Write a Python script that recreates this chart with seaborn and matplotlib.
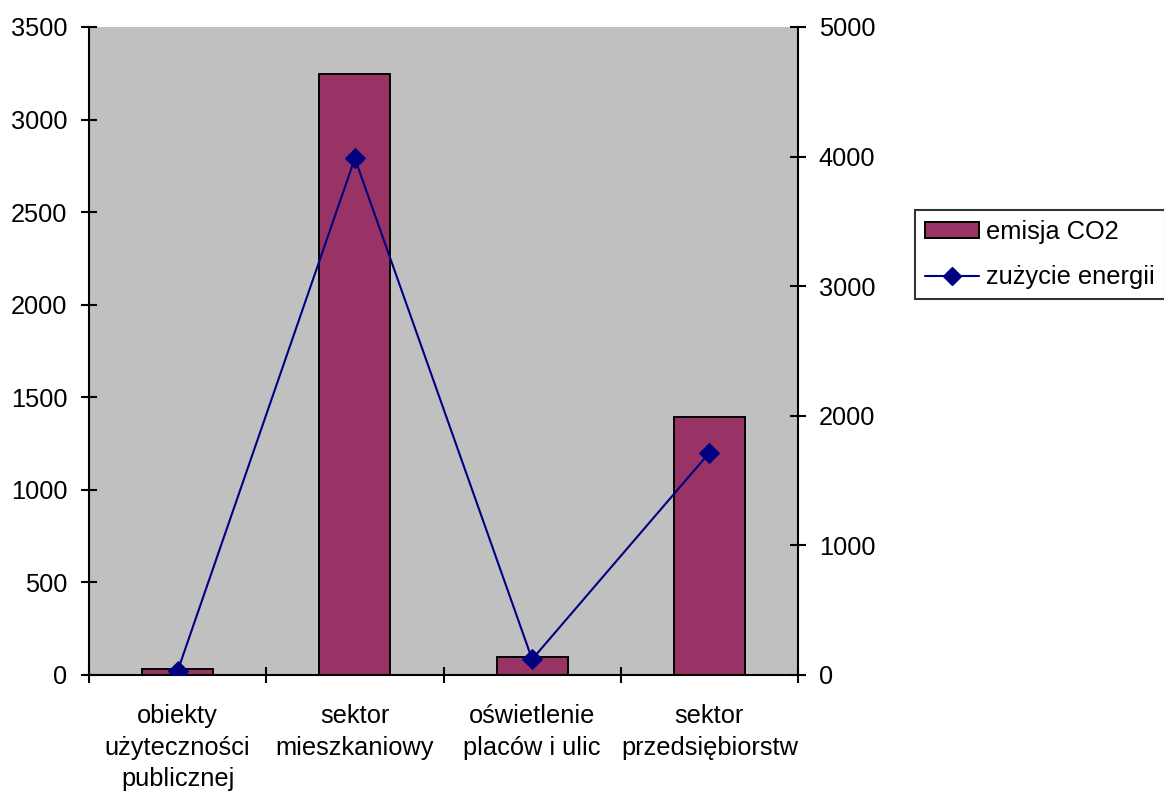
import matplotlib
matplotlib.use("Agg")
import matplotlib.pyplot as plt
import seaborn as sns
import pandas as pd
import numpy as np
from matplotlib.patches import Patch
from matplotlib.lines import Line2D

categories = ["obiekty\nużyteczności\npublicznej", "sektor\nmieszkaniowy",
              "oświetlenie\nplaców i ulic", "sektor\nprzedsiębiorstw"]
emisja_co2 = [35, 3244, 97, 1395]
zuzycie_energii = [31, 3987, 121, 1715]

left_ticks = [0, 500, 1000, 1500, 2000, 2500, 3000, 3500]
right_ticks = [0, 1000, 2000, 3000, 4000, 5000]

bar_color = "#993366"
line_color = "#000080"
bg_color = "#C0C0C0"

sns.set_theme(style="white")
plt.rcParams["font.family"] = ["Liberation Sans", "DejaVu Sans"]
plt.rcParams["text.color"] = "black"

df = pd.DataFrame({"kategoria": categories, "emisja": emisja_co2, "energia": zuzycie_energii})

fig = plt.figure(figsize=(11.64, 7.93), dpi=100)
ax = fig.add_axes([89 / 1164, 1 - 675 / 793, (798 - 89) / 1164, (675 - 27) / 793])
ax.set_facecolor(bg_color)

sns.barplot(data=df, x="kategoria", y="emisja", ax=ax, color=bar_color,
            width=0.4, edgecolor="black", linewidth=1.4, saturation=1)
ax.set_ylim(0, 3500)
ax.set_yticks(left_ticks)
ax.set_xlim(-0.5, 3.5)
ax.set_xlabel("")
ax.set_ylabel("")

ax2 = ax.twinx()
sns.lineplot(x=np.arange(len(categories)), y=df["energia"], ax=ax2, color=line_color,
             marker="D", markersize=10, markeredgecolor=line_color, linewidth=1.5)
ax2.set_ylim(0, 5000)
ax2.set_yticks(right_ticks)
ax2.set_xlim(-0.5, 3.5)
ax2.set_ylabel("")

for a in (ax, ax2):
    for s in a.spines.values():
        s.set_visible(False)
ax.spines["left"].set_visible(True)
ax.spines["bottom"].set_visible(True)
ax2.spines["right"].set_visible(True)
for a in (ax, ax2):
    for s in a.spines.values():
        s.set_color("black")
        s.set_linewidth(1.5)

fs = 18.3
tick_len = 12
ax.tick_params(axis="y", which="major", direction="inout", length=tick_len, width=1.5,
               color="black", left=True, labelsize=fs, pad=9.5, labelcolor="black")
ax2.tick_params(axis="y", which="major", direction="inout", length=tick_len, width=1.5,
                color="black", right=True, labelsize=fs, pad=9, labelcolor="black")
ax.set_xticks(range(len(categories)))
ax.set_xticklabels(categories, fontsize=fs, linespacing=1.4, color="black")
ax.set_xticks(np.arange(-0.5, len(categories), 1.0), minor=True)
ax.tick_params(axis="x", which="major", length=0, pad=21)
ax.tick_params(axis="x", which="minor", direction="inout", length=tick_len, width=1.5,
               color="black", bottom=True)
ax2.tick_params(axis="x", which="both", bottom=False, top=False, labelbottom=False)
ax.grid(False)
ax2.grid(False)

handles = [
    Patch(facecolor=bar_color, edgecolor="black", linewidth=1.4, label="emisja CO2"),
    Line2D([0], [0], color=line_color, marker="D", markersize=9.5, linewidth=1.5,
           label="zużycie energii"),
]
leg = fig.legend(handles=handles, loc="center left", bbox_to_anchor=(915 / 1164, 1 - 254.5 / 793),
                 fontsize=fs, frameon=True, fancybox=False, edgecolor="black",
                 labelcolor="black",
                 handlelength=2.1, handleheight=0.6, handletextpad=0.3,
                 borderpad=0.4, labelspacing=0.84, borderaxespad=0)
leg.get_frame().set_linewidth(1.5)

fig.savefig("out.png", dpi=100, facecolor="white")
